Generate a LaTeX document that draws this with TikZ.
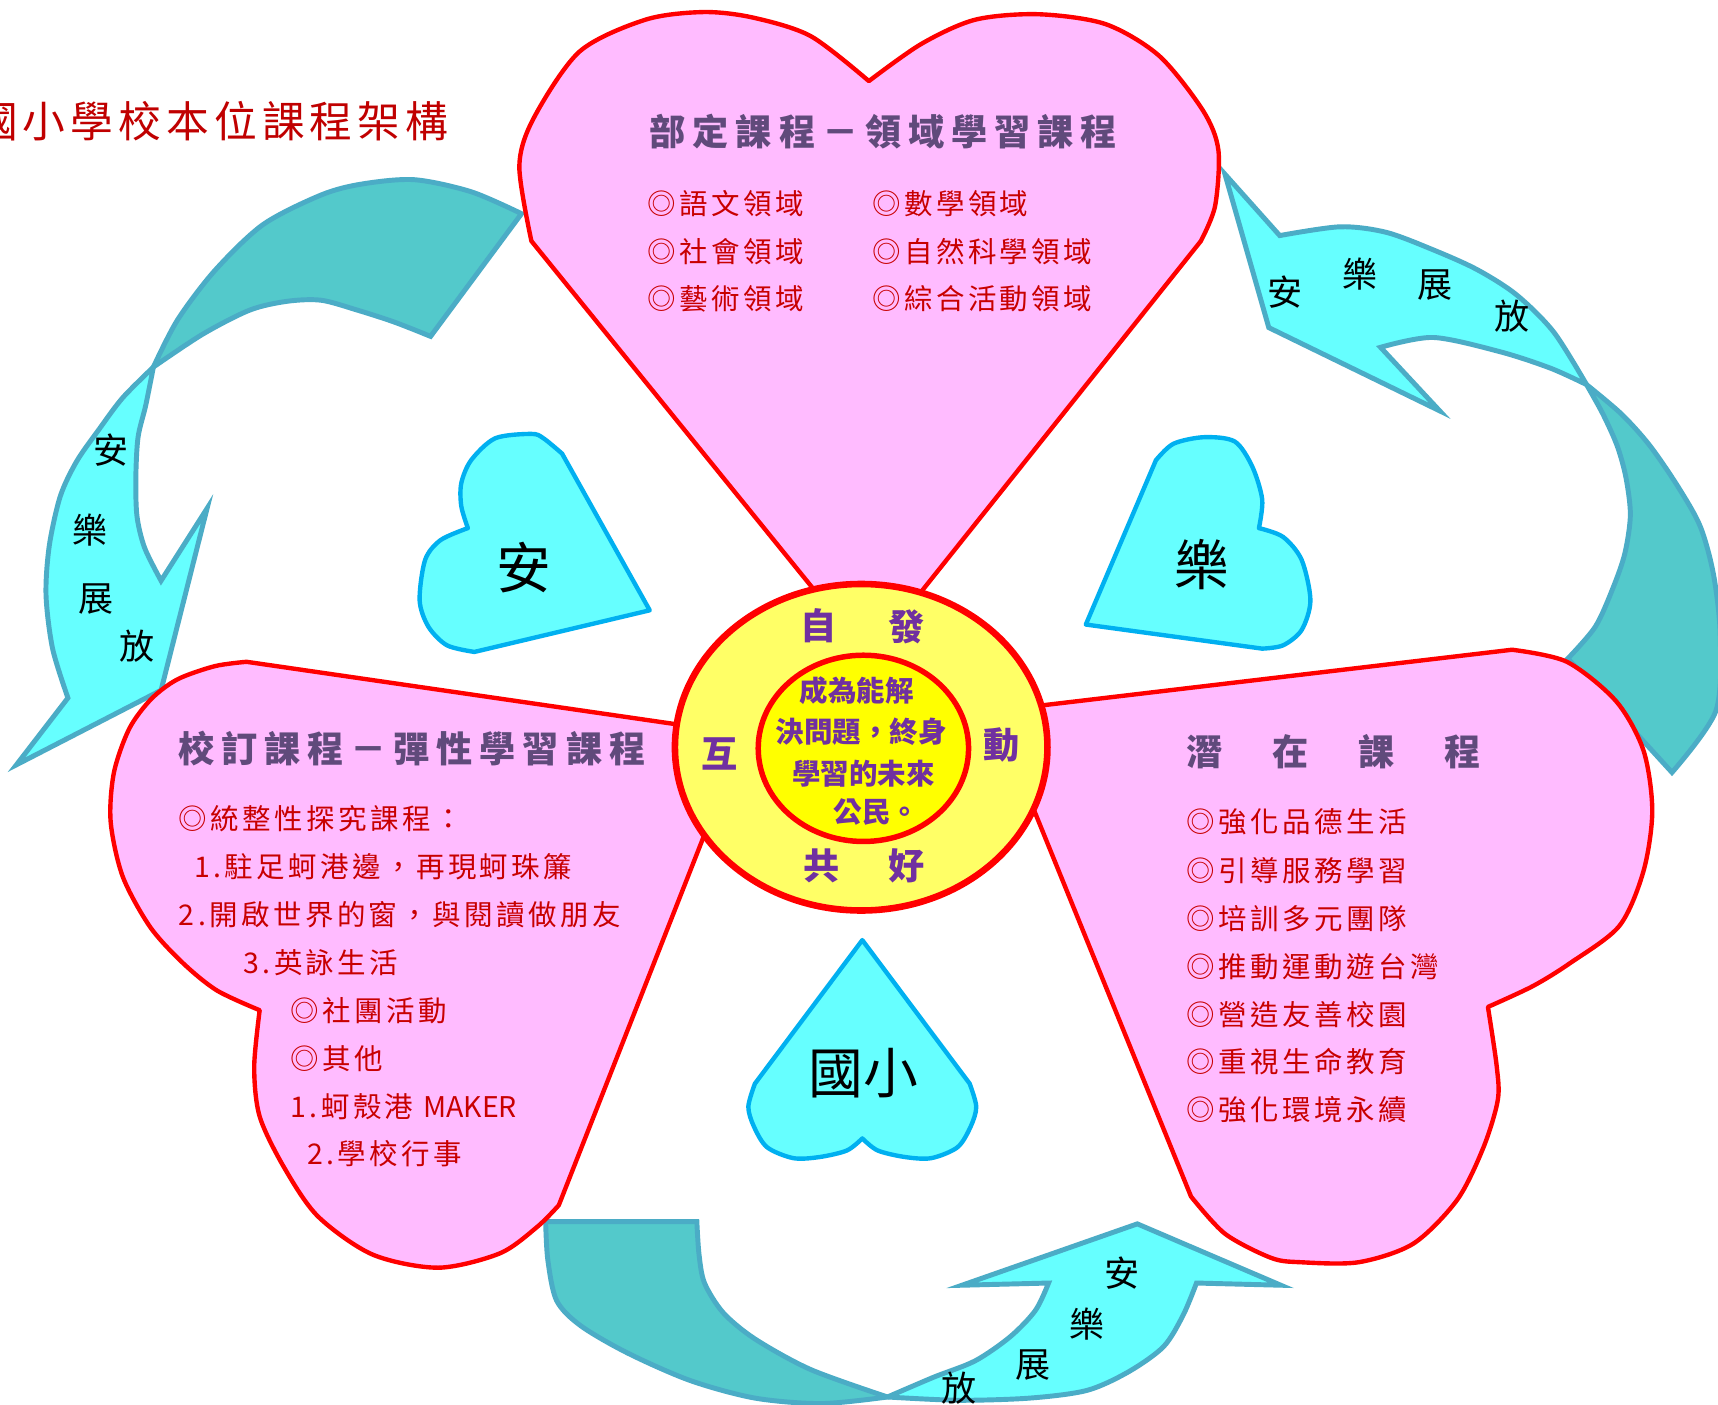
\documentclass[tikz,border=0pt]{standalone}
\usepackage{fontspec}
\newfontfamily\cjk{Noto Sans CJK TC}
\newfontfamily\cjkH[LetterSpace=19]{Noto Sans CJK TC}
\newfontfamily\cjkI[LetterSpace=12]{Noto Sans CJK TC}
\newfontfamily\cjkT[LetterSpace=12]{Noto Sans CJK TC}
\definecolor{pinkF}{HTML}{FFBBFF}
\definecolor{redL}{HTML}{FF0000}
\definecolor{headC}{HTML}{604A7B}
\definecolor{itemC}{HTML}{C80000}
\definecolor{titleC}{HTML}{C00000}
\definecolor{ringF}{HTML}{FFFF66}
\definecolor{coreF}{HTML}{FFFF00}
\definecolor{purpC}{HTML}{7030A0}
\definecolor{cyanF}{HTML}{66FFFF}
\definecolor{blueL}{HTML}{00B0F0}
\definecolor{tealF}{HTML}{53C9CB}
\definecolor{arrowL}{HTML}{4BACC6}
\tikzset{
  pinkheart/.style={fill=pinkF, draw=redL, line width=4pt, line join=round},
  cyanheart/.style={fill=cyanF, draw=blueL, line width=4pt, line join=round},
  tealpart/.style={fill=tealF, draw=arrowL, line width=4.5pt, line join=miter},
  cyanpart/.style={fill=cyanF, draw=arrowL, line width=4.5pt, line join=miter},
  heading/.style={anchor=west, inner sep=0pt, text=headC, font=\cjkH\bfseries\fontsize{33}{33}\selectfont},
  item/.style={anchor=west, inner sep=0pt, text=itemC, font=\cjkI\fontsize{26}{26}\selectfont},
  ringtxt/.style={inner sep=0pt, text=purpC, font=\cjk\bfseries\fontsize{33}{33}\selectfont},
  coretxt/.style={inner sep=0pt, text=purpC, font=\cjk\bfseries\fontsize{26}{26}\selectfont},
  arrowtxt/.style={inner sep=0pt, text=black, font=\cjk\fontsize{32}{32}\selectfont},
  bigtxt/.style={inner sep=0pt, text=black, font=\cjk\fontsize{50}{50}\selectfont},
  titletxt/.style={anchor=west, inner sep=0pt, text=titleC, font=\cjkT\fontsize{39}{39}\selectfont}
}
\begin{document}
\begin{tikzpicture}[x=1pt,y=-1pt]
\useasboundingbox (0,0) rectangle (1568,1282);
\fill[white] (0,0) rectangle (1568,1282);

% ---------- arrow 1 (top left) ----------
\draw[tealpart] (476,195) -- plot[smooth] coordinates {(476,195) (430,175) (378,164) (330,168) (293,178) (240,205) (196,247) (162,292) (140,335)}
  -- plot[smooth] coordinates {(140,335) (185,305) (228,283) (262,275) (293,274) (326,283) (360,294) (393,307)} -- cycle;
\draw[cyanpart] (140,335) -- plot[smooth] coordinates {(140,335) (112,363) (91,391) (70,421) (55,453) (45,498) (42,543) (48,592) (62,637)}
  -- (15,698) -- (147,630) -- (189,464) -- (147,530)
  -- plot[smooth] coordinates {(147,530) (132,500) (125,471) (124,435) (126,399) (133,370) (140,335)} -- cycle;

% ---------- arrow 2 (top right) ----------
\draw[tealpart] (1448,351) -- plot[smooth] coordinates {(1448,351) (1480,378) (1506,407) (1532,445) (1552,481) (1564,525) (1570,580) (1566,649) (1526,705)}
  -- (1431,601) -- plot[smooth] coordinates {(1431,601) (1456,572) (1472,537) (1483,505) (1488,470) (1484,436) (1476,407) (1463,378) (1448,351)} -- cycle;
\draw[cyanpart] (1118,159) -- (1168,215) -- plot[smooth] coordinates {(1168,215) (1223,207) (1265,212) (1308,228) (1348,246) (1384,269) (1418,303) (1448,351)}
  -- plot[smooth] coordinates {(1448,351) (1415,336) (1369,321) (1308,308) (1260,317)}
  -- (1314,375) -- (1158,299) -- cycle;

% ---------- arrow 3 (bottom) ----------
\draw[tealpart] (498,1115) -- (636,1115) -- plot[smooth] coordinates {(636,1115) (638,1145) (643,1171) (660,1198) (689,1222) (740,1250) (810,1275)}
  -- plot[smooth] coordinates {(810,1275) (750,1281) (689,1276) (630,1260) (573,1235) (530,1210) (508,1187) (500,1150) (498,1115)} -- cycle;
\draw[cyanpart] (810,1275) -- plot[smooth] coordinates {(810,1275) (875,1278) (940,1276) (992,1269) (1030,1252) (1062,1229) (1080,1200) (1092,1171)}
  -- (1169,1173) -- (1038,1117) -- (878,1173) -- (957,1171)
  -- plot[smooth] coordinates {(957,1171) (945,1196) (922,1220) (890,1242) (852,1257) (810,1275)} -- cycle;

% ---------- pink hearts ----------
\draw[pinkheart] (793,600) -- (485,220)
  -- plot[smooth] coordinates {(485,220) (474,152) (487,108) (529,47) (589,18) (642,11) (687,16) (740,33) (793,74)}
  -- plot[smooth] coordinates {(793,74) (841,40) (890,18) (948,13) (1009,22) (1058,51) (1098,101) (1112,137) (1109,188) (1096,220)}
  -- cycle;
\draw[pinkheart] (679,670) -- (225,604)
  -- plot[smooth] coordinates {(225,604) (196,608) (162,620) (138,638) (118,665) (104,705) (101,750) (112,800) (137,846) (167,879) (198,904) (237,922)}
  -- plot[smooth] coordinates {(237,922) (232,974) (237,1019) (259,1065) (290,1110) (340,1145) (400,1157) (456,1144) (490,1120) (510,1100)}
  -- cycle;
\draw[pinkheart] (907,649) -- (1380,593)
  -- plot[smooth] coordinates {(1380,593) (1430,604) (1475,640) (1500,685) (1508,740) (1500,795) (1478,845) (1433,879) (1399,900) (1358,919)}
  -- plot[smooth] coordinates {(1358,919) (1366,973) (1367,1004) (1354,1047) (1330,1095) (1290,1135) (1240,1152) (1187,1152) (1160,1148) (1118,1126) (1087,1092)}
  -- cycle;

% ---------- small cyan hearts ----------
\draw[cyanheart] (593,557) -- (513,414)
  -- plot[smooth] coordinates {(513,414) (496,400) (485,396) (452,400) (430,420) (421,441) (421,462) (427,482)}
  -- plot[smooth] coordinates {(427,482) (402,493) (388,511) (383,548) (391,572) (408,589) (433,595)}
  -- cycle;
\draw[cyanheart] (991,570) -- (1055,420)
  -- plot[smooth] coordinates {(1055,420) (1071,405) (1099,399) (1127,403) (1143,426) (1152,456) (1149,482)}
  -- plot[smooth] coordinates {(1149,482) (1171,490) (1188,511) (1196,548) (1188,575) (1171,589) (1152,592)}
  -- cycle;
\draw[cyanheart] (787,858) -- (689,989)
  -- plot[smooth] coordinates {(689,989) (683,1010) (688,1028) (700,1047) (724,1057) (748,1056) (773,1050) (787,1039)}
  -- plot[smooth] coordinates {(787,1039) (801,1050) (826,1056) (850,1057) (874,1047) (886,1028) (891,1010) (885,989)}
  -- cycle;

% ---------- centre ----------
\draw[fill=ringF, draw=redL, line width=6pt] (786,682) ellipse [x radius=170, y radius=149];
\draw[fill=coreF, draw=redL, line width=5pt] (788,683) ellipse [x radius=96, y radius=85];

% ---------- texts ----------
\node[titletxt] (title) at (-23,111) {國小學校本位課程架構};

\node[heading] (h1) at (593,120) {部定課程－領域學習課程};
\node[item] (t1) at (591,186) {◎語文領域};
\node[item] (t2) at (591,230) {◎社會領域};
\node[item] (t3) at (591,273) {◎藝術領域};
\node[item] (t4) at (796,186) {◎數學領域};
\node[item] (t5) at (796,230) {◎自然科學領域};
\node[item] (t6) at (796,273) {◎綜合活動領域};

\node[heading] (h2) at (163,683) {校訂課程－彈性學習課程};
\node[item] (l1) at (163,747) {◎統整性探究課程：};
\node[item] (l2) at (177,791) {1.駐足蚵港邊，再現蚵珠簾};
\node[item] (l3) at (163,835) {2.開啟世界的窗，與閱讀做朋友};
\node[item] (l4) at (222,879) {3.英詠生活};
\node[item] (l5) at (265,922) {◎社團活動};
\node[item] (l6) at (265,966) {◎其他};
\node[item] (l7) at (265,1010) {1.蚵殼港 {\cjk\fontsize{26}{26}\selectfont MAKER}};
\node[item] (l8) at (280,1053) {2.學校行事};

\node[heading] (h3) at (1083,686) {潛　在　課　程};
\node[item] (r1) at (1083,750) {◎強化品德生活};
\node[item] (r2) at (1083,795) {◎引導服務學習};
\node[item] (r3) at (1083,838) {◎培訓多元團隊};
\node[item] (r4) at (1083,882) {◎推動運動遊台灣};
\node[item] (r5) at (1083,926) {◎營造友善校園};
\node[item] (r6) at (1083,969) {◎重視生命教育};
\node[item] (r7) at (1083,1013) {◎強化環境永續};

\node[ringtxt] (c1) at (747,571) {自};
\node[ringtxt] (c2) at (827,572) {發};
\node[ringtxt] (c3) at (657,688) {互};
\node[ringtxt] (c4) at (914,680) {動};
\node[ringtxt] (c5) at (750,790) {共};
\node[ringtxt] (c6) at (827,790) {好};
\node[coretxt] (k1) at (782,630) {成為能解};
\node[coretxt] (k2) at (786,668) {決問題，終身};
\node[coretxt] (k3) at (788,706) {學習的未來};
\node[coretxt] (k4) at (800,741) {公民。};

\node[bigtxt] (s1) at (478,518) {安};
\node[bigtxt] (s2) at (1097,515) {樂};
\node[bigtxt] (s3) at (788,979) {國小};

\node[arrowtxt] (a11) at (101,411) {安};
\node[arrowtxt] (a12) at (82,484) {樂};
\node[arrowtxt] (a13) at (88,547) {展};
\node[arrowtxt] (a14) at (125,590) {放};
\node[arrowtxt] (a21) at (1173,267) {安};
\node[arrowtxt] (a22) at (1241,250) {樂};
\node[arrowtxt] (a23) at (1310,260) {展};
\node[arrowtxt] (a24) at (1380,289) {放};
\node[arrowtxt] (a31) at (1024,1162) {安};
\node[arrowtxt] (a32) at (992,1208) {樂};
\node[arrowtxt] (a33) at (943,1246) {展};
\node[arrowtxt] (a34) at (875,1267) {放};
\end{tikzpicture}
\end{document}
